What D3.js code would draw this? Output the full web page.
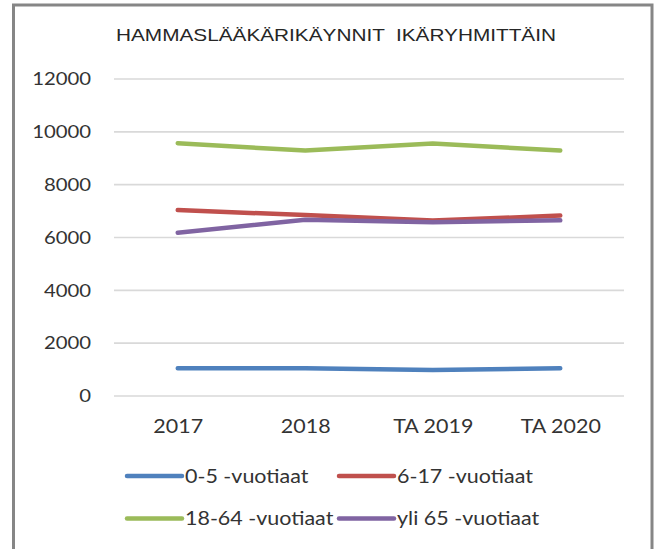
<!DOCTYPE html>
<html>
<head>
<meta charset="utf-8">
<script src="https://cdn.jsdelivr.net/npm/d3@7"></script>
<style>
  body { margin: 0; background: #fff; }
  svg text { font-family: Lato, "Open Sans", sans-serif; fill: #333; }
</style>
</head>
<body>
<svg id="chart" width="657" height="549"></svg>
<script>
let categories = ["2017", "2018", "TA 2019", "TA 2020"];
let seriesNames = ["0-5 -vuotiaat", "6-17 -vuotiaat", "18-64 -vuotiaat", "yli 65 -vuotiaat"];
let values0to5 = [1030, 1030, 970, 1030];
let values6to17 = [7020, 6830, 6620, 6810];
let values18to64 = [9550, 9270, 9540, 9270];
let valuesOver65 = [6160, 6650, 6560, 6630];
let yTicks = [0, 2000, 4000, 6000, 8000, 10000, 12000];
let colors = ["#4f81bd", "#c0504d", "#9bbb59", "#8064a2"];
let title = "HAMMASLÄÄKÄRIKÄYNNIT  IKÄRYHMITTÄIN";

let series = [values0to5, values6to17, values18to64, valuesOver65];

const PLOT = { LEFT: 114, RIGHT: 624, TOP: 78.5, BOTTOM: 395.5 };
const STRETCH = 1.16;

let svg = d3.select("#chart");

// outer frame (bottom edge runs off the picture)
svg.append("rect")
  .attr("x", 13.5).attr("y", 5)
  .attr("width", 638.5).attr("height", 570)
  .attr("fill", "none")
  .attr("stroke", "#868686")
  .attr("stroke-width", 3);

let xScale = d3.scalePoint()
  .domain(categories)
  .range([PLOT.LEFT, PLOT.RIGHT])
  .padding(0.5);

let yScale = d3.scaleLinear()
  .domain([0, 12000])
  .range([PLOT.BOTTOM, PLOT.TOP]);

// y axis + gridlines
let yAxis = d3.axisLeft(yScale)
  .tickValues(yTicks)
  .tickFormat(d => d)
  .tickSize(-(PLOT.RIGHT - PLOT.LEFT))
  .tickPadding(23);

let yg = svg.append("g")
  .attr("transform", "translate(" + PLOT.LEFT + ",0)")
  .call(yAxis);
yg.select(".domain").remove();
yg.selectAll("line").attr("stroke", "#d9d9d9").attr("stroke-width", 1.6);
yg.selectAll("text")
  .attr("dy", null).attr("y", 6.3)
  .style("font-size", "17.5px")
  .attr("fill", "#333");

// x axis labels
let xAxis = d3.axisBottom(xScale).tickSize(0);
let xg = svg.append("g")
  .attr("transform", "translate(0," + PLOT.BOTTOM + ")")
  .call(xAxis);
xg.select(".domain").remove();
xg.selectAll("text")
  .attr("dy", null).attr("y", 37.2)
  .style("font-size", "18.5px")
  .attr("fill", "#333");

// lines
let line = d3.line()
  .x((d, i) => xScale(categories[i]))
  .y(d => yScale(d));

svg.append("g").selectAll("path")
  .data(series)
  .enter()
  .append("path")
  .attr("d", d => line(d))
  .attr("fill", "none")
  .attr("stroke", (d, i) => colors[i])
  .attr("stroke-width", 4.5)
  .attr("stroke-linecap", "round")
  .attr("stroke-linejoin", "round");

// title
svg.append("text")
  .attr("class", "title")
  .attr("x", 116).attr("y", 41)
  .attr("textLength", 440)
  .attr("lengthAdjust", "spacingAndGlyphs")
  .style("white-space", "pre")
  .style("font-family", "'Liberation Sans Narrow', 'Liberation Sans', Arial, sans-serif")
  .style("font-size", "16.5px")
  .style("fill", "#262626")
  .text(title);

// legend
let legendPos = [
  { x: 127, y: 476 }, { x: 339, y: 476 },
  { x: 127, y: 518.5 }, { x: 339, y: 518.5 }
];
let legend = svg.append("g").selectAll("g")
  .data(seriesNames)
  .enter()
  .append("g")
  .attr("transform", (d, i) => "translate(" + legendPos[i].x + "," + legendPos[i].y + ")");

legend.append("line")
  .attr("x1", 0).attr("x2", 55)
  .attr("y1", 0).attr("y2", 0)
  .attr("stroke", (d, i) => colors[i])
  .attr("stroke-width", 4.5)
  .attr("stroke-linecap", "round");

legend.append("text")
  .attr("x", 58).attr("y", 6.6)
  .style("font-size", "18.5px")
  .text(d => d);

// widen the humanist font a bit so it runs like the original
svg.selectAll("text:not(.title)").each(function() {
  let w = this.getComputedTextLength();
  d3.select(this)
    .attr("textLength", w * STRETCH)
    .attr("lengthAdjust", "spacingAndGlyphs");
});
</script>
</body>
</html>
